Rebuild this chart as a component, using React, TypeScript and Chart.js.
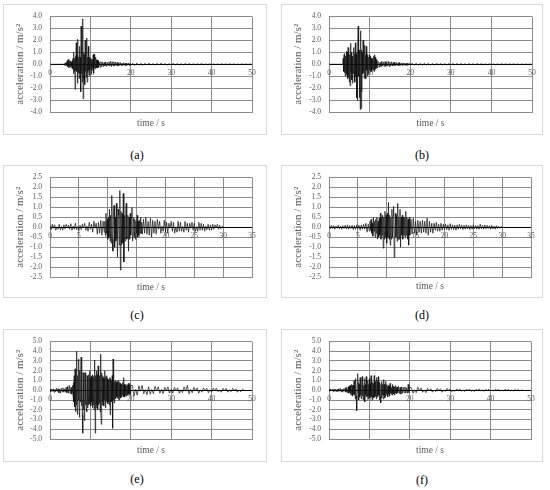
import React, { useEffect, useRef } from "react";
import { Chart, registerables } from "chart.js";

Chart.register(...registerables);

const FONT = "'Liberation Serif', 'Times New Roman', serif";
const TEXT = "#595959";
const GRID = "#8c8c8c";

// ---------- Data (acceleration in m/s²) ----------
// (a)
const aLead = [0, 0, 0, 0, 0, 0, 0, 0];
const aStrong = [
  0.05, -0.08, 0.1, -0.1, 0.15, -0.12, 0.2,
  0.3, -0.2, 0.4, -0.3, 0.35, -0.25, 0.3, -0.2,
  0.25, -0.3, 0.2, -0.15, 0.3, -0.4, 0.5,
  -0.8, 1.0, -0.6, 0.5, -2.1, 0.7, -0.5, 1.8,
  -0.6, 0.8, -1.6, 2.1, -0.7, 0.6, -1.2, 1.5, -0.8,
  0.6, -2.3, 3.2, -0.8, 1.2, -1.5, 3.8, -2.9, 1.0, -1.2,
  0.8, -1.7, 2.0, -0.6, 0.9, -1.1, 2.2, -1.5, 0.6, -0.7,
  1.5, -0.5, 0.5, -1.0, 0.6, -0.4, 0.5, -0.8, 0.4, -0.5,
  0.4, -0.3, 0.8, -0.75, 0.85, -0.3, 0.3, -0.4, 0.6, -0.3,
  0.4, -0.3, 0.35, -0.3, 0.3, -0.25,
];
const aTail1 = [
  0.2, -0.25, 0.22, -0.2, 0.18, -0.2, 0.15, -0.15, 0.2, -0.18,
  0.15, -0.12, 0.2, -0.15, 0.25, -0.2, 0.22, -0.15, 0.2, -0.15,
  0.18, -0.12, 0.15, -0.15, 0.12, -0.1, 0.15, -0.12, 0.1, -0.1,
  0.12, -0.1, 0.1, -0.12, 0.1, -0.08, 0.1, -0.1, 0.08, -0.08,
];
const aTail2 = [
  0.08, -0.1, 0.1, -0.08, 0.07, -0.09, 0.08, -0.06, 0.09, -0.07,
  0.06, -0.08, 0.07, -0.06, 0.08, -0.05, 0.06, -0.07, 0.05, -0.06,
  0.07, -0.05, 0.05, -0.06, 0.04, -0.05, 0.05, -0.04, 0.05, -0.04,
  0.04, -0.05, 0.04, -0.03, 0.05, -0.04, 0.03, -0.04, 0.04, -0.03,
  0.03, -0.04, 0.03, -0.03, 0.04, -0.03, 0.03, -0.03, 0.03, -0.02,
  0.03, -0.03, 0.02, -0.03, 0.03, -0.02, 0.02, -0.02, 0.02, 0,
];

// (b)
const bLead = [0, 0, 0, 0, 0, 0, 0];
const bStrong = [
  0, 0.5, -0.6, 0.8, -0.7, 0.9, -1.0,
  0.7, -0.9, 1.1, -0.8, 1.0, -1.2, 1.4, -1.1, 1.2, -1.5,
  0.8, -1.8, 1.75, -0.7, 1.0, -1.3, 0.6, -1.6, 0.7, -0.8,
  1.4, -0.6, 0.9, -1.5, 1.8, -1.0, 0.8, -2.8, 1.0, -3.05,
  1.5, 3.2, -1.0, 1.2, -2.8, 1.0, -3.8, 2.8, -3.7, 1.2,
  -2.3, 1.0, -0.8, 2.0, -0.7, 0.9, -1.2, 1.6, -0.6, 0.8,
  -1.2, 1.5, -0.5, 0.8, -1.0, 0.5, -0.8, 0.6, -0.4, 0.8,
  -0.6, 0.7, -0.5, 0.5, -0.6, 0.4, -0.4, 0.5, -0.5, 0.7,
  -0.6, 0.8, -0.5, 0.6, -0.4, 0.4, -0.3, 0.35, -0.3, 0.25,
];
const bTail1 = [
  0.2, -0.25, 0.15, -0.2, 0.25, -0.15, 0.2, -0.2, 0.22, -0.18,
  0.2, -0.15, 0.25, -0.2, 0.18, -0.15, 0.2, -0.15, 0.15, -0.12,
  0.18, -0.12, 0.15, -0.1, 0.12, -0.12, 0.15, -0.1, 0.1, -0.1,
  0.12, -0.08, 0.1, -0.1, 0.08, -0.1, 0.1, -0.08, 0.08, -0.06,
];
const bTail2 = [
  0.08, -0.07, 0.09, -0.08, 0.07, -0.08, 0.08, -0.06, 0.07, -0.07,
  0.06, -0.07, 0.07, -0.05, 0.06, -0.06, 0.05, -0.06, 0.06, -0.05,
  0.05, -0.05, 0.06, -0.04, 0.05, -0.05, 0.04, -0.05, 0.05, -0.04,
  0.04, -0.04, 0.05, -0.03, 0.04, -0.04, 0.03, -0.04, 0.04, -0.03,
  0.03, -0.04, 0.03, -0.03, 0.04, -0.03, 0.03, -0.03, 0.03, -0.02,
  0.03, -0.02, 0.02, -0.03, 0.02, -0.02, 0.02, -0.02, 0.01, 0,
];

// (c)
const cNoise = [
  0.1, -0.12, 0.15, -0.05, 0.12, -0.15, 0.02, -0.1, 0.15, -0.12,
  0.04, -0.15, 0.12, -0.08, 0.15, -0.02, 0.1, -0.1, 0.18, -0.15,
  0.06, -0.1, 0.2, -0.12, 0.03, -0.18, 0.1, -0.12, 0.15, -0.04,
  0.2, -0.15, 0.06, -0.2, 0.25, -0.1, 0.15, -0.25, 0.3, -0.05,
  0.2, -0.35, 0.25, -0.3, 0.35, -0.4, 0.3, -0.25,
];
const cStrong = [
  0.3, -0.4, 0.7, -0.3, 0.4, -0.6, 0.5, -0.5, 0.9, -0.7,
  0.6, -0.8, 1.6, -0.6, -1.2, 0.8, 1.1, -1.0, 0.5, -0.7,
  1.2, -0.6, -1.5, 0.9, 0.6, -0.9, 1.85, -2.15, 0.8, -0.9,
  0.7, -0.8, 1.7, -1.75, 0.6, -0.7, 0.5, 1.2, -0.6, -0.5,
  0.6, -1.2, 0.5, -0.6, 0.7, -0.4, 0.5, 1.0, -0.7, -0.4,
  0.5, -0.5, 0.4, -0.6, 0.3, -0.3, 0.6, -0.5, 0.3, -0.4,
  0.35, -0.3, 0.5, -0.3, 0.25, -0.35,
];
const cTail = [
  0.4, -0.3, 0.5, -0.35, 0.3, -0.4, 0.45, -0.5, 0.35, -0.3,
  0.3, -0.35, 0.4, -0.1, 0.3, -0.3, 0.05, -0.2, 0.35, -0.25,
  0.25, -0.3, 0.2, -0.05, 0.3, -0.2, 0.25, -0.3, 0.02, -0.25,
  0.3, -0.2, 0.25, -0.2, 0.04, -0.25, 0.3, -0.15, 0.2, -0.25,
  0.2, -0.05, 0.25, -0.15, 0.2, -0.2, 0.03, -0.2, 0.25, -0.15,
  0.2, -0.15, 0.15, -0.2, 0.05, -0.12, 0.15, -0.15, 0.12, -0.15,
  0.15, -0.1, 0.12, -0.02, 0.15, -0.1, 0.1, -0.08, 0.05, 0,
];

// (d)
const dNoise = [
  0.05, -0.08, 0.1, -0.06, 0.08, -0.1, 0.06, -0.05, 0.1, -0.08,
  0.06, -0.1, 0.08, -0.06, 0.1, -0.08, 0.12, -0.1, 0.08, -0.06,
  0.1, -0.12, 0.08, -0.1, 0.12, -0.08, 0.1, -0.15, 0.12, -0.1,
  0.15, -0.1, 0.2, -0.25, 0.15, -0.2,
];
const dStrong = [
  0.3, -0.15, 0.4, -0.3, 0.2, -0.45, 0.5, -0.2, 0.3, -0.5,
  0.4, -0.3, 0.5, -0.6, 0.3, -0.5, 0.45, -0.4, 0.7, -0.6,
  0.5, -0.4, 0.6, -1.05, 0.5, -0.6, 0.8, -0.5, 0.6, -0.8,
  0.7, -0.5, 1.25, -0.6, 0.6, -0.9, 0.5, -0.6, 0.9, -0.5,
  0.6, 1.05, -1.5, -0.6, 0.7, -0.5, 0.6, -0.7, 1.2, -0.6,
  0.5, -0.6, 0.9, -1.0, 0.5, -0.4, 0.6, -0.6, 0.5, -0.4,
  0.5, -0.5, 0.8, -0.4, 0.5, -0.6, 0.4, -0.9, 0.5, -0.4,
];
const dTail = [
  0.4, -0.35, 0.45, -0.3, 0.3, -0.4, 0.35, -0.25, 0.3, -0.3,
  0.35, -0.25, 0.3, -0.3, 0.45, -0.4, 0.3, -0.25, 0.2, -0.3,
  0.2, -0.15, 0.25, -0.2, 0.15, -0.2, 0.2, -0.15, 0.15, -0.12,
  0.15, -0.12, 0.12, -0.15, 0.18, -0.1, 0.12, -0.12, 0.1, -0.15,
  0.12, -0.1, 0.15, -0.08, 0.1, -0.12, 0.1, -0.1, 0.12, -0.08,
  0.1, -0.12, 0.08, -0.1, 0.12, -0.08, 0.1, -0.1, 0.08, -0.1,
  0.15, -0.08, 0.1, -0.1, 0.12, -0.08, 0.1, -0.06, 0.08, -0.1,
  0.1, -0.08, 0.06, -0.1, 0.08, -0.06, 0.05, -0.05, 0.04, 0,
];

// (e)
const eNoise = [
  0.1, -0.15, 0.12, -0.1, 0.15, -0.2, 0.1, -0.15, 0.2, -0.12,
  0.15, -0.25, 0.1, -0.3, 0.2, -0.15, 0.25, -0.2, 0.15, -0.2,
  0.3, -0.25, 0.4, -0.3, 0.5, -0.35, 0.3, -0.4, 0.5,
];
const eStrong = [
  -0.6, 0.8, -1.2, 1.5, -1.7, 2.2, -2.2, 1.8, -1.5, 4.0,
  -2.0, -2.5, 1.5, -1.0, 3.2, -1.8, -2.8, 2.0, -1.2, 1.5,
  3.4, -1.6, 1.2, -2.5, -4.4, 1.8, -2.0, 1.5, -3.1, 1.8,
  1.8, -1.5, 1.2, -2.0, -2.2, 1.5, -1.8, 1.3, -1.5, 1.6,
  -1.2, 2.0, -1.4, 1.2, -1.6, 1.4, -1.2, 1.5, -1.8, 1.6,
  -1.5, 1.4, -2.0, 1.8, 3.1, -4.4, 1.5, -1.8, 2.0, -1.5,
  1.6, -2.0, 2.5, -1.5, 1.8, -1.3, 1.5, -2.2, 3.7, -2.0,
  -3.5, 1.8, -1.5, 1.5, -1.2, 1.3, -1.6, 1.2, -1.0, 2.0,
  -1.8, 1.4, -1.2, 1.5, -1.0, 1.2, -1.4, 1.0, -1.2, 1.1,
  -1.5, 1.3, -2.5, 1.2, -1.0, 1.0, -1.2, 1.5, -3.9, 3.2,
  -1.0, 1.0, -1.3, 0.9, -0.8, 1.0, -0.9, 0.8, -0.7, 0.9,
  -0.8, 0.7, -0.9, 1.0, -1.0, 0.8, -0.6, 0.7, -0.8, 0.6,
  -0.7, 0.6, -0.5, 0.8, -0.6, 1.3, -0.7, 0.6, -0.7, 0.5,
  -0.5, 0.6, -0.6, 0.5, -0.4, 0.6, -0.5, 0.7, -0.4, 0.5,
  -0.5, 0.7, -0.4, 0.5,
];
const eTail = [
  0.5, -0.6, 0.1, -0.5, 0.45, -0.1, 0.5, -0.35, 0.05, -0.45,
  0.35, -0.4, 0.1, -0.35, 0.4, -0.05, 0.35, -0.3, 0.08, -0.35,
  0.3, -0.05, 0.35, -0.3, 0.1, -0.3, 0.3, -0.08, 0.25, -0.3,
  0.05, -0.25, 0.35, -0.1, 0.5, -0.35, 0.08, -0.25, 0.3, -0.05,
  0.25, -0.3, 0.05, -0.2, 0.25, -0.08, 0.2, -0.25, 0.05, -0.2,
  0.2, -0.05, 0.2, -0.15, 0.05, -0.2, 0.2, -0.04, 0.2, -0.2,
  0.05, -0.15, 0.2, -0.05, 0.15, -0.2, 0.04, -0.15, 0.1, 0,
];

// (f)
const fNoise = [
  0.1, -0.1, 0.12, -0.08, 0.1, -0.12, 0.15, -0.1, 0.12, -0.15,
  0.1, -0.12, 0.15, -0.1, 0.2, -0.15, 0.12, -0.2, 0.15, -0.1,
  0.25, -0.2, 0.3, -0.25, 0.35,
];
const fStrong = [
  -0.3, 0.4, -0.2, 0.5, -0.4, 0.3, -0.5, 0.6, -0.3, 0.5,
  -0.6, 0.5, -0.4, 1.0, -0.5, 0.6, -0.9, 1.2, -0.6, -0.8,
  -2.1, 0.6, 1.7, -0.6, 0.8, -1.0, 0.6, -0.7, 1.3, -0.5,
  0.7, -0.9, 0.6, 1.4, -0.6, 0.8, -1.0, 0.5, -0.7, 1.2,
  -1.2, 0.6, -0.5, 1.4, -0.7, 0.8, -0.6, 1.0, -0.9, 0.6,
  -0.6, 1.2, -0.8, 0.7, -0.6, 1.5, -0.7, 0.6, -1.0, 0.8,
  -0.6, 0.7, -0.8, 1.5, -0.7, 0.9, -0.6, 0.7, -0.9, 1.3,
  -0.6, 0.9, -0.7, 1.4, -0.5, 0.8, -1.0, 0.6, -0.7, -1.3,
  0.6, -0.8, 0.9, -0.5, 0.6, -0.9, 1.1, -0.5, 0.6, -0.8,
  0.5, -0.6, 0.9, -0.4, 0.6, -0.5, 0.4, -0.7, 0.5, -0.4,
  0.4, -0.6, 0.7, -0.3, 0.5, -0.4, 0.3, -0.5, 0.6, -0.3,
  0.4, -0.4, 0.3, -0.5, 0.35, -0.3, 0.5, -0.25, 0.3, -0.35,
  0.3, -0.25,
];
const fTail1 = [0.4, -0.35, 0.3, -0.4, 0.35, -0.3, 0.3, -0.25, 0.35, -0.3, 0.25, -0.3, 0.6, -0.25, 0.3];
const fTail2 = [
  0.25, -0.3, 0.05, -0.25, 0.3, -0.05, 0.25, -0.2, 0.04, -0.25,
  0.2, -0.05, 0.15, -0.2, 0.03, -0.15, 0.2, -0.04, 0.15, -0.2,
  0.03, -0.12, 0.2, -0.04, 0.12, -0.15, 0.02, -0.1, 0.12, -0.03,
  0.12, -0.1, 0.03, -0.12, 0.1, -0.02, 0.12, -0.1, 0.02, -0.12,
  0.1, -0.02, 0.12, -0.08, 0.02, -0.1, 0.08, -0.02, 0.1, -0.08,
  0.02, -0.08, 0.08, -0.02, 0.1, -0.08, 0.02, -0.08, 0.1, -0.02,
  0.08, -0.08, 0.02, -0.08, 0.08, -0.02, 0.06, -0.05, 0.02, 0,
];

// Sampling of each record segment: [start time (s), time step (s), values]
type Seg = [number, number, number[]];
const aSegs: Seg[] = [[0, 0.5, aLead], [3.6, 0.1, aStrong], [12.2, 0.2, aTail1], [20.5, 0.5, aTail2]];
const bSegs: Seg[] = [[0, 0.5, bLead], [3.4, 0.1, bStrong], [12.2, 0.2, bTail1], [20.5, 0.5, bTail2]];
const cSegs: Seg[] = [[0, 0.2, cNoise], [9.5, 0.1, cStrong], [16.2, 0.2, cTail]];
const dSegs: Seg[] = [[0, 0.2, dNoise], [7.1, 0.1, dStrong], [14.2, 0.2, dTail]];
const eSegs: Seg[] = [[0, 0.2, eNoise], [5.7, 0.1, eStrong], [20.4, 0.4, eTail]];
const fSegs: Seg[] = [[0, 0.2, fNoise], [4.9, 0.1, fStrong], [17.2, 0.2, fTail1], [20.4, 0.4, fTail2]];

function toPoints(segs: Seg[]) {
  const pts: { x: number; y: number }[] = [];
  for (const [start, step, vals] of segs) {
    vals.forEach((v, i) => pts.push({ x: +(start + i * step).toFixed(3), y: v }));
  }
  return pts;
}

// ---------- Layout ----------
interface PanelCfg {
  caption: string;
  segs: Seg[];
  xMax: number; xStep: number;
  yMax: number; yStep: number;
  box: [number, number, number, number]; // left, top, width, height
  plotLeft: number; padTop: number; padRight: number; axisH: number; xTitlePad: number;
  cap: [number, number];
}

const panels: PanelCfg[] = [
  { caption: "(a)", segs: aSegs, xMax: 50, xStep: 10, yMax: 4, yStep: 1, box: [3, 4, 264, 131], plotLeft: 47, padTop: 9, padRight: 15, axisH: 23, xTitlePad: 6, cap: [137, 155] },
  { caption: "(b)", segs: bSegs, xMax: 50, xStep: 10, yMax: 4, yStep: 1, box: [281, 4, 262, 131], plotLeft: 48, padTop: 9, padRight: 11, axisH: 23, xTitlePad: 6, cap: [422, 155] },
  { caption: "(c)", segs: cSegs, xMax: 35, xStep: 5, yMax: 2.5, yStep: 0.5, box: [3, 165, 264, 133], plotLeft: 47, padTop: 10, padRight: 15, axisH: 21, xTitlePad: 5, cap: [137, 315] },
  { caption: "(d)", segs: dSegs, xMax: 35, xStep: 5, yMax: 2.5, yStep: 0.5, box: [281, 165, 262, 133], plotLeft: 48, padTop: 11, padRight: 12, axisH: 21, xTitlePad: 6, cap: [422, 315] },
  { caption: "(e)", segs: eSegs, xMax: 50, xStep: 10, yMax: 5, yStep: 1, box: [3, 329, 264, 133], plotLeft: 47, padTop: 11, padRight: 15, axisH: 23, xTitlePad: 6, cap: [137, 479] },
  { caption: "(f)", segs: fSegs, xMax: 50, xStep: 10, yMax: 5, yStep: 1, box: [281, 329, 262, 133], plotLeft: 48, padTop: 11, padRight: 12, axisH: 23, xTitlePad: 6, cap: [422, 480] },
];

const xTickLabels = {
  id: "xTickLabels",
  beforeDatasetsDraw(chart: any) {
    const xs = chart.scales.x;
    const ys = chart.scales.y;
    const ctx = chart.ctx;
    const y0 = ys.getPixelForValue(0);
    ctx.save();
    ctx.font = `7.5px ${FONT}`;
    ctx.fillStyle = TEXT;
    ctx.textAlign = "center";
    ctx.textBaseline = "middle";
    xs.ticks.forEach((t: any) => {
      ctx.fillText(String(t.value), xs.getPixelForValue(t.value), y0 + 9);
    });
    ctx.restore();
  },
};

function Panel({ p }: { p: PanelCfg }) {
  const ref = useRef<HTMLCanvasElement>(null);
  useEffect(() => {
    const chart = new Chart(ref.current as HTMLCanvasElement, {
      type: "line",
      data: {
        datasets: [
          {
            data: toPoints(p.segs),
            borderColor: "#111",
            borderWidth: 0.7,
            pointRadius: 0,
            fill: false,
            tension: 0,
          },
        ],
      },
      options: {
        animation: false,
        responsive: false,
        devicePixelRatio: 1,
        events: [],
        parsing: false,
        normalized: true,
        layout: { padding: { left: 0, top: p.padTop, right: p.padRight, bottom: 0 } },
        plugins: { legend: { display: false }, tooltip: { enabled: false }, title: { display: false } },
        scales: {
          x: {
            type: "linear",
            min: 0,
            max: p.xMax,
            ticks: { display: false, stepSize: p.xStep, autoSkip: false },
            grid: { color: GRID, drawTicks: false, lineWidth: 1 },
            border: { display: true, color: GRID },
            title: {
              display: true,
              text: "time / s",
              color: TEXT,
              font: { family: FONT, size: 9.5 },
              padding: { top: 0, bottom: p.xTitlePad },
            },
            afterFit: (s: any) => { s.height = p.axisH; },
          },
          y: {
            type: "linear",
            min: -p.yMax,
            max: p.yMax,
            ticks: {
              stepSize: p.yStep,
              autoSkip: false,
              color: TEXT,
              font: { family: FONT, size: 7.5 },
              padding: 8,
              callback: (v: any) => Number(v).toFixed(1),
            },
            grid: {
              color: (c: any) => (Math.abs(c.tick.value) < 1e-9 ? "#000" : GRID),
              drawTicks: false,
              lineWidth: 1,
            },
            border: { display: true, color: GRID },
            title: {
              display: true,
              text: "acceleration / m/s²",
              color: TEXT,
              font: { family: FONT, size: 11 },
              padding: { top: 11, bottom: 0 },
            },
            afterFit: (s: any) => { s.width = p.plotLeft; },
          },
        },
      } as any,
      plugins: [xTickLabels],
    });
    return () => chart.destroy();
  }, []);

  const [l, t, w, h] = p.box;
  return (
    <>
      <div style={{ position: "absolute", left: l, top: t, width: w, height: h, border: "1px solid #d9d9d9", boxSizing: "border-box" }} />
      <canvas ref={ref} width={w} height={h} style={{ position: "absolute", left: l, top: t, width: w, height: h }} />
      <div
        style={{
          position: "absolute",
          left: p.cap[0] - 20,
          top: p.cap[1] - 8,
          width: 40,
          textAlign: "center",
          font: `12px ${FONT}`,
          lineHeight: "16px",
          color: "#000",
        }}
      >
        {p.caption}
      </div>
    </>
  );
}

export default function App() {
  return (
    <div style={{ position: "absolute", left: 0, top: 0, width: 550, height: 490, background: "#fff", overflow: "hidden" }}>
      {panels.map((p) => (
        <Panel key={p.caption} p={p} />
      ))}
    </div>
  );
}
